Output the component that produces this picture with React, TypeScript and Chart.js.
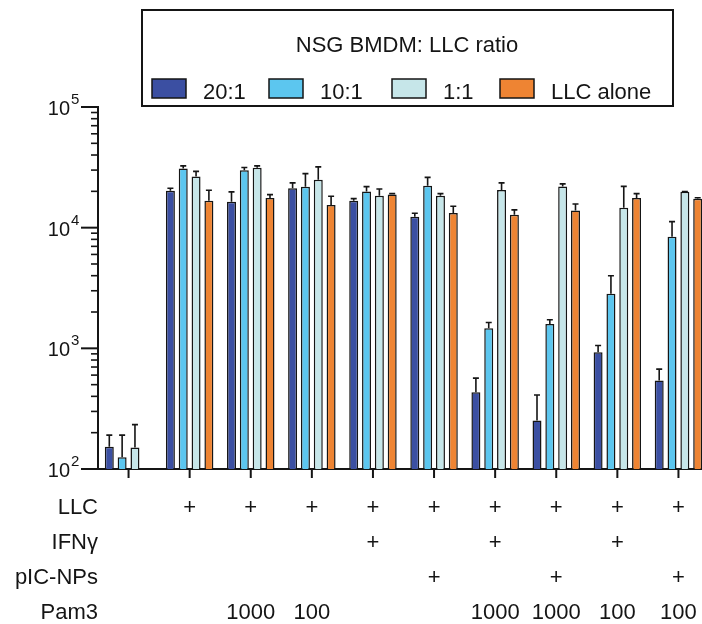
import React, { useEffect, useRef } from 'react';
import { Chart, registerables } from 'chart.js';

Chart.register(...registerables);

// ---- Data ----
const categories = ['c1', 'c2', 'c3', 'c4', 'c5', 'c6', 'c7', 'c8', 'c9', 'c10'];
const seriesLabels = ['20:1', '10:1', '1:1', 'LLC alone'];
const seriesColors = ['#3B4FA2', '#5CC6EF', '#C6E6E9', '#EE8433'];

const ratio20 = [153, 20200, 16400, 21200, 16750, 12300, 433, 252, 930, 540];
const sd20 = [38, 1000, 3400, 2300, 650, 850, 133, 159, 125, 132];
const ratio10 = [125, 30900, 29900, 21800, 19900, 22200, 1470, 1590, 2830, 8420];
const sd10 = [66, 1600, 1600, 6250, 2000, 3900, 167, 135, 1170, 2800];
const ratio1 = [151, 26500, 31300, 24900, 18400, 18400, 20500, 21900, 14600, 19800];
const sd1 = [82, 2800, 1200, 7000, 2500, 750, 3000, 1150, 7400, 150];
const llcAlone = [null, 16750, 17600, 15400, 18800, 13250, 12800, 13900, 17600, 17400];
const sdLlc = [null, 3650, 1170, 2800, 350, 1780, 1230, 1830, 1550, 300];

const yMin = 100;
const yMax = 100000;
const yDecadeExponents = [2, 3, 4, 5];

const legendTitle = 'NSG BMDM: LLC ratio';
const tableRowLabels = ['LLC', 'IFN\u03B3', 'pIC-NPs', 'Pam3'];
const rowLLC = ['', '+', '+', '+', '+', '+', '+', '+', '+', '+'];
const rowIFN = ['', '', '', '', '+', '', '+', '', '+', ''];
const rowPIC = ['', '', '', '', '', '+', '', '+', '', '+'];
const rowPam3 = ['', '', '1000', '100', '', '', '1000', '1000', '100', '100'];

const FONT = "'Liberation Sans', Arial, Helvetica, sans-serif";
const INK = '#151515';

const seriesValues = [ratio20, ratio10, ratio1, llcAlone];
const seriesErrors = [sd20, sd10, sd1, sdLlc];
const tableRows = [rowLLC, rowIFN, rowPIC, rowPam3];

const overlayPlugin = {
  id: 'overlay',
  afterDatasetsDraw(chart: any) {
    const ctx = chart.ctx;
    const yScale = chart.scales.y;
    // error bars (upper only)
    ctx.save();
    ctx.strokeStyle = INK;
    ctx.lineWidth = 1.6;
    chart.data.datasets.forEach((ds: any, di: number) => {
      const meta = chart.getDatasetMeta(di);
      const errs = seriesErrors[di];
      meta.data.forEach((el: any, i: number) => {
        const v = ds.data[i];
        const e = errs[i];
        if (v == null || e == null) return;
        const yTop = el.y;
        const yErr = yScale.getPixelForValue(v + e);
        ctx.beginPath();
        ctx.moveTo(el.x, yTop);
        ctx.lineTo(el.x, yErr);
        ctx.moveTo(el.x - 3, yErr);
        ctx.lineTo(el.x + 3, yErr);
        ctx.stroke();
      });
    });
    ctx.restore();
  },
  afterDraw(chart: any) {
    const ctx = chart.ctx;
    const area = chart.chartArea;
    const xScale = chart.scales.x;
    const yScale = chart.scales.y;
    const axisX = area.left;
    ctx.save();
    ctx.strokeStyle = INK;
    ctx.fillStyle = INK;

    // y ticks (major + minor)
    yDecadeExponents.forEach((d) => {
      const major = Math.pow(10, d);
      const py = yScale.getPixelForValue(major);
      ctx.lineWidth = 2;
      ctx.beginPath();
      ctx.moveTo(axisX - 17, py);
      ctx.lineTo(axisX, py);
      ctx.stroke();
      // label 10^d
      ctx.font = `20px ${FONT}`;
      ctx.textAlign = 'right';
      ctx.textBaseline = 'alphabetic';
      ctx.fillText('10', axisX - 28, py + 8);
      ctx.font = `15px ${FONT}`;
      ctx.textAlign = 'left';
      ctx.fillText(String(d), axisX - 27, py - 3);
      if (major < yMax) {
        for (let m = 2; m <= 9; m++) {
          const pm = yScale.getPixelForValue(m * major);
          ctx.lineWidth = 1.6;
          ctx.beginPath();
          ctx.moveTo(axisX - 7, pm);
          ctx.lineTo(axisX, pm);
          ctx.stroke();
        }
      }
    });

    // x ticks
    ctx.lineWidth = 2;
    categories.forEach((_, i) => {
      const px = xScale.getPixelForValue(i);
      ctx.beginPath();
      ctx.moveTo(px, area.bottom);
      ctx.lineTo(px, area.bottom + 9);
      ctx.stroke();
    });

    // condition table
    ctx.font = `22px ${FONT}`;
    ctx.textBaseline = 'alphabetic';
    tableRowLabels.forEach((label, r) => {
      const by = area.bottom + 45 + r * 35;
      ctx.textAlign = 'right';
      ctx.fillText(label, axisX, by);
      ctx.textAlign = 'center';
      tableRows[r].forEach((cell, i) => {
        if (!cell) return;
        ctx.fillText(cell, xScale.getPixelForValue(i), by);
      });
    });

    // legend box
    ctx.lineWidth = 2;
    ctx.strokeRect(142, 10, 531, 96);
    ctx.font = `22px ${FONT}`;
    ctx.textAlign = 'center';
    ctx.fillText(legendTitle, 407, 52);
    const swatchX = [152, 269, 392, 500];
    chart.data.datasets.forEach((ds: any, di: number) => {
      const sx = swatchX[di];
      ctx.fillStyle = ds.backgroundColor;
      ctx.fillRect(sx, 79, 34, 19);
      ctx.lineWidth = 1.5;
      ctx.strokeStyle = INK;
      ctx.strokeRect(sx, 79, 34, 19);
      ctx.fillStyle = INK;
      ctx.textAlign = 'left';
      ctx.fillText(ds.label, sx + 51, 99);
    });
    ctx.restore();
  },
};

export default function App() {
  const canvasRef = useRef<HTMLCanvasElement | null>(null);

  useEffect(() => {
    const canvas = canvasRef.current;
    if (!canvas) return;
    const chart = new Chart(canvas, {
      type: 'bar',
      data: {
        labels: categories,
        datasets: seriesLabels.map((label, i) => ({
          label,
          data: seriesValues[i],
          backgroundColor: seriesColors[i],
          borderColor: INK,
          borderWidth: 1.5,
          categoryPercentage: 0.84,
          barPercentage: 0.7,
        })),
      },
      options: {
        responsive: false,
        devicePixelRatio: 1,
        animation: false,
        layout: { padding: { left: 98, top: 107, right: 3, bottom: 155 } },
        plugins: {
          legend: { display: false },
          tooltip: { enabled: false },
        },
        scales: {
          x: {
            type: 'category',
            offset: true,
            grid: { display: false, drawTicks: false },
            ticks: { display: false },
            border: { display: true, color: INK, width: 2 },
          },
          y: {
            type: 'logarithmic',
            min: yMin,
            max: yMax,
            grid: { display: false, drawTicks: false },
            ticks: { display: false },
            border: { display: true, color: INK, width: 2 },
          },
        },
      },
      plugins: [overlayPlugin],
    } as any);
    return () => chart.destroy();
  }, []);

  return (
    <div
      style={{
        position: 'fixed',
        left: 0,
        top: 0,
        width: 702,
        height: 624,
        overflow: 'hidden',
        background: '#ffffff',
      }}
    >
      <canvas ref={canvasRef} width={712} height={624} style={{ display: 'block' }} />
    </div>
  );
}
